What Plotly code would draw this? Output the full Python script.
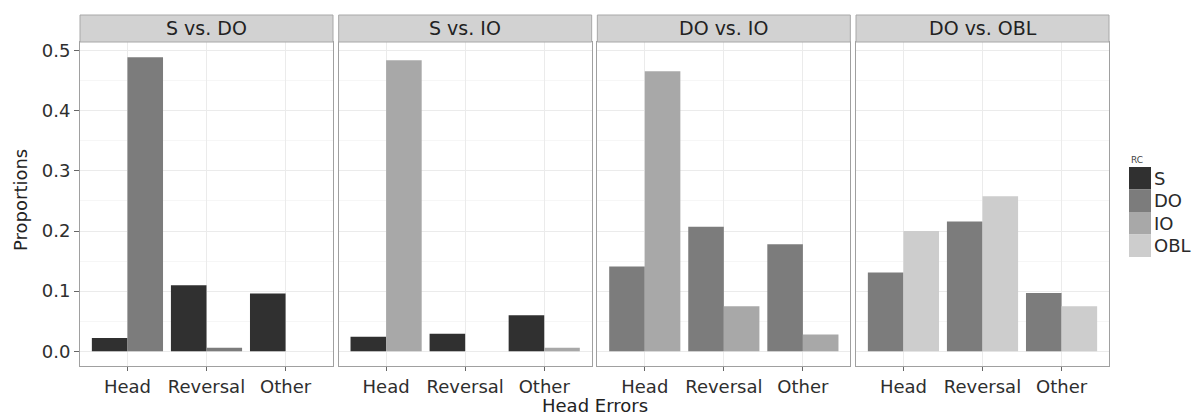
import plotly.graph_objects as go
from plotly.subplots import make_subplots

categories = ['Head', 'Reversal', 'Other']
panels = ['S vs. DO', 'S vs. IO', 'DO vs. IO', 'DO vs. OBL']
panel_series = [('S', 'DO'), ('S', 'IO'), ('DO', 'IO'), ('DO', 'OBL')]

# proportions, one pair of lists per panel
s_vs_do_s = [0.022, 0.110, 0.096]
s_vs_do_do = [0.489, 0.006, 0.0]
s_vs_io_s = [0.024, 0.029, 0.060]
s_vs_io_io = [0.484, 0.0, 0.006]
do_vs_io_do = [0.141, 0.207, 0.178]
do_vs_io_io = [0.466, 0.075, 0.028]
do_vs_obl_do = [0.131, 0.216, 0.097]
do_vs_obl_obl = [0.200, 0.258, 0.075]

panel_values = [
    (s_vs_do_s, s_vs_do_do),
    (s_vs_io_s, s_vs_io_io),
    (do_vs_io_do, do_vs_io_io),
    (do_vs_obl_do, do_vs_obl_obl),
]

rc_levels = ['S', 'DO', 'IO', 'OBL']
rc_colors = {'S': '#303030', 'DO': '#7c7c7c', 'IO': '#a8a8a8', 'OBL': '#cdcdcd'}

W, H = 1192, 415
ML, MR, MT, MB = 80, 83, 15, 49
plot_w = W - ML - MR
plot_h = H - MT - MB
panel_px = 253
gap_px = (plot_w - 4 * panel_px) / 3
strip_px = 27
ytop = 1 - strip_px / plot_h

font = 'DejaVu Sans, Arial, sans-serif'

fig = make_subplots(rows=1, cols=4, shared_yaxes=True)

for i, (series, values) in enumerate(zip(panel_series, panel_values)):
    for name, vals in zip(series, values):
        fig.add_trace(go.Bar(
            x=categories, y=vals, name=name,
            marker=dict(color=rc_colors[name], line=dict(width=0)),
            showlegend=False, hoverinfo='x+y+name'
        ), row=1, col=i + 1)

    x0 = (i * (panel_px + gap_px)) / plot_w
    x1 = x0 + panel_px / plot_w
    ax = 'xaxis' if i == 0 else f'xaxis{i + 1}'
    ay = 'yaxis' if i == 0 else f'yaxis{i + 1}'
    fig.layout[ax].update(
        domain=[x0, x1], range=[-0.6, 2.6], type='category',
        showline=True, mirror=True, linecolor='#a0a0a0', linewidth=1,
        showgrid=True, gridcolor='#ebebeb', gridwidth=1,
        ticks='outside', ticklen=4, tickcolor='#666666',
        tickfont=dict(family=font, size=18, color='#2e2e2e'),
        zeroline=False, fixedrange=True,
    )
    fig.layout[ay].update(
        domain=[0, ytop], range=[-0.0245, 0.5145],
        showline=True, mirror=True, linecolor='#a0a0a0', linewidth=1,
        showgrid=True, gridcolor='#ebebeb', gridwidth=1,
        minor=dict(showgrid=True, dtick=0.05, tick0=0.05, gridcolor='#f6f6f6', gridwidth=1),
        dtick=0.1, tickformat='.1f', zeroline=False,
        ticks='outside' if i == 0 else '', ticklen=5, tickcolor='#666666',
        showticklabels=(i == 0),
        tickfont=dict(family=font, size=18, color='#2e2e2e'),
        fixedrange=True,
    )

    # facet strip
    fig.add_shape(type='rect', xref='paper', yref='paper',
                  x0=x0, x1=x1, y0=ytop, y1=1.0,
                  fillcolor='#d2d2d2', line=dict(color='#a8a8a8', width=1))
    fig.add_annotation(text=panels[i], xref='paper', yref='paper',
                       x=(x0 + x1) / 2, y=(ytop + 1) / 2, showarrow=False,
                       xanchor='center', yanchor='middle',
                       font=dict(family=font, size=19, color='#222222'))

# axis titles
fig.add_annotation(text='Head Errors', xref='paper', yref='paper',
                   x=0.5, y=-(405 - (H - MB)) / plot_h, showarrow=False,
                   xanchor='center', yanchor='middle',
                   font=dict(family=font, size=18, color='#222222'))
fig.add_annotation(text='Proportions', xref='paper', yref='paper',
                   x=-(ML - 20) / plot_w, y=(H - MB - 200) / plot_h, textangle=-90,
                   xanchor='center', yanchor='middle',
                   showarrow=False, font=dict(family=font, size=18, color='#222222'))

# legend drawn as contiguous keys, ggplot style
key_h = 22.5 / plot_h
key_x0 = (1129 - ML) / plot_w
key_x1 = (1151 - ML) / plot_w
key_top = (H - MB - 167) / plot_h
fig.add_annotation(text='RC', xref='paper', yref='paper', x=key_x0, y=key_top,
                   xanchor='left', yanchor='bottom', showarrow=False,
                   font=dict(family=font, size=9, color='#444444'))
for k, lvl in enumerate(rc_levels):
    top = key_top - k * key_h
    fig.add_shape(type='rect', xref='paper', yref='paper',
                  x0=key_x0, x1=key_x1, y0=top - key_h, y1=top,
                  fillcolor=rc_colors[lvl], line=dict(width=0))
    fig.add_annotation(text=lvl, xref='paper', yref='paper',
                       x=key_x1 + 1 / plot_w, y=top - key_h / 2,
                       xanchor='left', yanchor='middle', showarrow=False,
                       font=dict(family=font, size=18, color='#2a2a2a'))

fig.update_layout(
    width=W, height=H,
    margin=dict(l=ML, r=MR, t=MT, b=MB),
    barmode='group', bargap=0.1, bargroupgap=0,
    plot_bgcolor='white', paper_bgcolor='white',
    showlegend=False,
)

fig.write_html('out.html', config={'displayModeBar': False},
               post_script="document.body.style.margin='0';document.body.style.overflow='hidden';")
